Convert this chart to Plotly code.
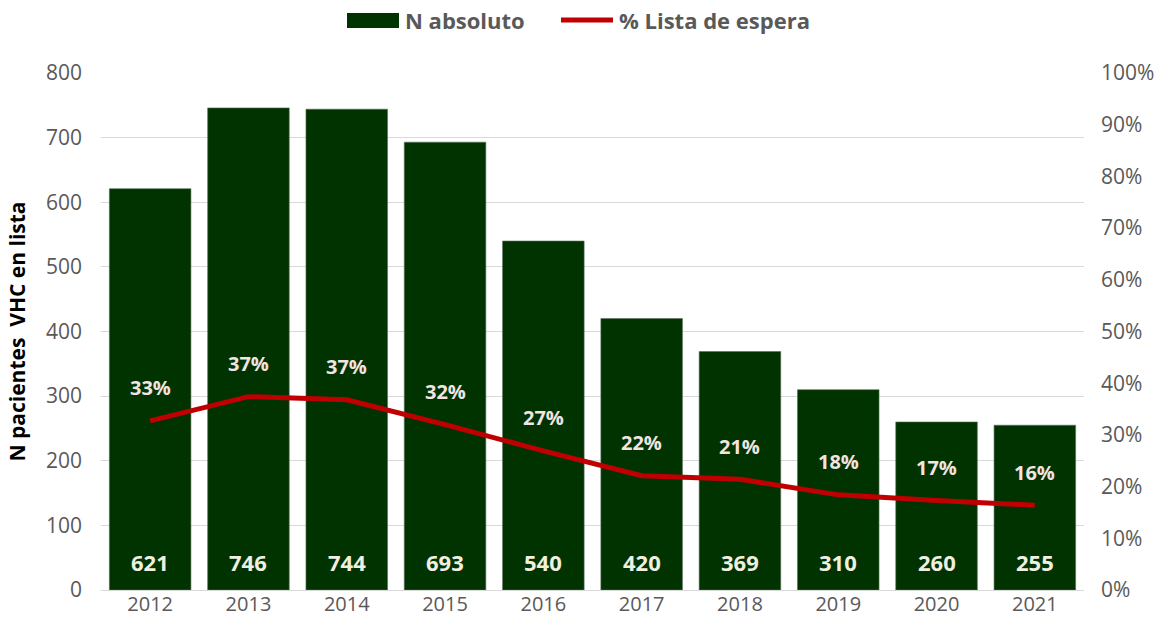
import plotly.graph_objects as go

# Patients with HCV on the transplant waiting list
years = ["2012", "2013", "2014", "2015", "2016", "2017", "2018", "2019", "2020", "2021"]
n_absoluto = [621, 746, 744, 693, 540, 420, 369, 310, 260, 255]
pct_lista = [32.7, 37.4, 36.8, 32.0, 26.9, 22.1, 21.4, 18.4, 17.3, 16.4]

y_ticks = [0, 100, 200, 300, 400, 500, 600, 700, 800]
y2_ticks = [0, 10, 20, 30, 40, 50, 60, 70, 80, 90, 100]

BAR_COLOR = "#003300"
LINE_COLOR = "#C00000"
GREY = "#595959"
FONT = "Open Sans, Carlito, Calibri, sans-serif"

W, H = 1173, 634
L, R, T, B = 101, 89, 73, 44
pw, ph = W - L - R, H - T - B


def px_x(x):
    return (x - L) / pw


def px_y(y):
    return (H - B - y) / ph


fig = go.Figure()

fig.add_trace(go.Bar(
    x=years, y=n_absoluto, name="N absoluto",
    marker=dict(color=BAR_COLOR, line=dict(color="#5a6e5a", width=0.6)),
    showlegend=False, hoverinfo="x+y",
))

fig.add_trace(go.Scatter(
    x=years, y=pct_lista, name="% Lista de espera", yaxis="y2",
    mode="lines", line=dict(color=LINE_COLOR, width=5),
    showlegend=False,
))

annotations = []
# count labels near the base of each bar (x given as category index)
for i, v in enumerate(n_absoluto):
    annotations.append(dict(
        x=i, y=0, xref="x", yref="y", text=f"<b>{v}</b>",
        showarrow=False, yshift=28, yanchor="middle",
        font=dict(family=FONT, size=22, color="#F0F0E0"),
    ))
# percentage labels above the line
for i, p in enumerate(pct_lista):
    annotations.append(dict(
        x=i, y=p, xref="x", yref="y2", text=f"<b>{round(p)}%</b>",
        showarrow=False, yshift=33, yanchor="middle",
        font=dict(family=FONT, size=20, color="#F2E4E0"),
    ))

# legend drawn by hand: wide swatch for bars, line for the series
legend_font = dict(family=FONT, size=22, color=GREY)
annotations += [
    dict(x=px_x(403), y=px_y(20), xref="paper", yref="paper", text="<b>N absoluto</b>",
         showarrow=False, xanchor="left", yanchor="middle", font=legend_font),
    dict(x=px_x(617), y=px_y(20), xref="paper", yref="paper", text="<b>% Lista de espera</b>",
         showarrow=False, xanchor="left", yanchor="middle", font=legend_font),
]

fig.update_layout(
    width=W, height=H,
    margin=dict(l=L, r=R, t=T, b=B),
    paper_bgcolor="white", plot_bgcolor="white",
    bargap=0.17,
    font=dict(family=FONT, color=GREY, size=20),
    xaxis=dict(
        type="category", range=[-0.5, 9.5], showgrid=False, ticks="", showline=False,
        tickfont=dict(family=FONT, size=20, color=GREY),
    ),
    yaxis=dict(
        range=[0, 800], tickvals=y_ticks, showgrid=True, gridcolor="#D9D9D9",
        gridwidth=1.3, zeroline=True, zerolinecolor="#D9D9D9", zerolinewidth=1.3,
        ticks="", showline=False, ticklabelstandoff=18,
        tickfont=dict(family=FONT, size=21, color=GREY),
        title=dict(text="<b>N pacientes  VHC en lista</b>", standoff=14,
                   font=dict(family=FONT, size=21, color="black")),
    ),
    yaxis2=dict(
        range=[0, 100], tickvals=y2_ticks, ticktext=[f"{t}%" for t in y2_ticks],
        overlaying="y", side="right", showgrid=False, zeroline=False,
        ticks="", showline=False, ticklabelstandoff=16,
        tickfont=dict(family=FONT, size=21, color=GREY),
    ),
    annotations=annotations,
    showlegend=False,
)

fig.add_shape(type="rect", xref="paper", yref="paper",
              x0=px_x(347), x1=px_x(399), y0=px_y(28), y1=px_y(13),
              fillcolor=BAR_COLOR, line=dict(width=0))
fig.add_shape(type="line", xref="paper", yref="paper",
              x0=px_x(561), x1=px_x(613), y0=px_y(20), y1=px_y(20),
              line=dict(color=LINE_COLOR, width=5))

fig.write_html("out.html")
